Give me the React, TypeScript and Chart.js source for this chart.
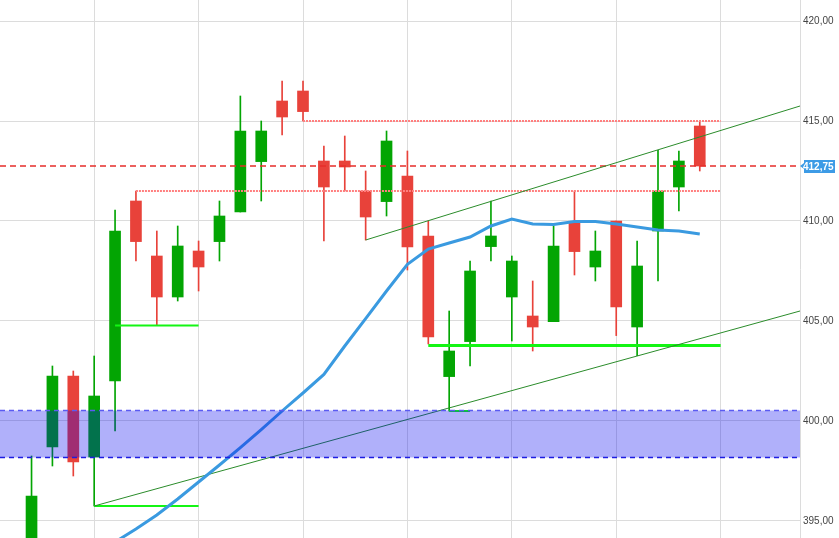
import React, { useEffect, useRef } from "react";
import { Chart, registerables } from "chart.js";

Chart.register(...registerables);

// ---------- data ----------
const candleIndex = [
  0, 1, 2, 3, 4, 5, 6, 7, 8, 9, 10, 11, 12, 13, 14, 15, 16, 17, 18, 19, 20, 21, 22, 23, 24, 25, 26, 27, 28, 29, 30, 31, 32,
];
const opens = [
  393.0, 398.7, 402.25, 398.2, 402.0, 411.0, 408.25, 406.2, 408.5, 408.97, 410.45, 412.97, 416.0, 416.5, 413.0, 413.0,
  411.5, 410.97, 412.25, 409.25, 402.22, 403.97, 408.72, 406.2, 405.25, 404.97, 409.9, 407.7, 410.0, 404.7, 409.5,
  411.7, 414.75,
];
const highs = [
  398.25, 402.75, 402.5, 403.25, 410.55, 411.5, 409.5, 409.75, 409.0, 411.0, 416.25, 415.0, 417.0, 417.0, 413.75, 414.25,
  412.5, 414.5, 413.5, 410.0, 405.5, 408.0, 411.0, 408.25, 407.0, 409.75, 411.5, 409.5, 410.0, 409.0, 413.53, 413.5,
  415.0,
];
const lows = [
  392.5, 397.75, 397.25, 395.75, 399.5, 408.0, 404.8, 406.0, 406.5, 408.0, 410.45, 411.0, 414.3, 415.0, 409.0, 411.5,
  409.05, 410.25, 407.55, 403.85, 400.5, 402.75, 408.0, 404.0, 403.5, 404.97, 407.3, 407.0, 404.27, 403.27, 407.0,
  410.5, 412.5,
];
const closes = [
  396.25, 402.25, 397.95, 401.25, 409.5, 408.97, 406.2, 408.75, 407.7, 410.25, 414.5, 414.5, 415.2, 415.47, 411.7,
  412.7, 410.2, 414.0, 408.7, 404.2, 403.5, 407.5, 409.25, 408.0, 404.7, 408.75, 408.47, 408.5, 405.7, 407.75, 411.5,
  413.0, 412.75,
];

const maIndex = [
  4, 5, 6, 7, 8, 9, 10, 11, 12, 13, 14, 15, 16, 17, 18, 19, 20, 21, 22, 23, 24, 25, 26, 27, 28, 29, 30, 31, 32,
];
const maValues = [
  393.95, 394.6, 395.3, 396.1, 396.95, 397.8, 398.67, 399.57, 400.5, 401.4, 402.33, 403.75, 405.12, 406.5, 407.83,
  408.6, 408.9, 409.2, 409.75, 410.1, 409.85, 409.83, 409.97, 409.97, 409.85, 409.7, 409.55, 409.5, 409.35,
];

const yTicks = [395, 400, 405, 410, 415, 420];
const xGridAt = [3, 8, 13, 18, 23, 28, 33];
const xRange = [-1.51, 36.8];
const yRange = [394.15, 421.05];

const lastPrice = 412.75;
const bandTop = 400.52;
const bandBottom = 398.18;

// trend lines: [x, y] pairs
const upperTrend = [
  [16, 409.05],
  [36.8, 415.75],
];
const lowerTrend = [
  [3, 395.75],
  [36.8, 405.5],
];
// horizontal support lines: [xStart, xEnd, level]
const supportA = [3, 8, 395.75];
const supportB = [4, 8, 404.77];
const supportC = [19, 33, 403.78];
const supportD = [20, 21, 400.5];
// resistance dotted lines
const resistA = [13, 33, 415.0];
const resistB = [5, 33, 411.5];

// ---------- styles ----------
const GREEN = "#03a503";
const RED = "#e8423a";
const GRID = "#dcdcdc";

function seg(x0: number, x1: number, y: number) {
  return [
    { x: x0, y },
    { x: x1, y },
  ];
}

export default function App() {
  const ref = useRef<HTMLCanvasElement | null>(null);

  useEffect(() => {
    document.body.style.margin = "0";
    const canvas = ref.current;
    if (!canvas) return;

    const colors = candleIndex.map((_, i) => (closes[i] >= opens[i] ? GREEN : RED));

    const priceTag = {
      id: "priceTag",
      afterDraw(chart: any) {
        const { ctx, chartArea, scales } = chart;
        const y = Math.round(scales.y.getPixelForValue(lastPrice));
        const x0 = chartArea.right + 1;
        ctx.save();
        ctx.fillStyle = "#3d9be6";
        ctx.beginPath();
        ctx.moveTo(x0 - 1, y);
        ctx.lineTo(x0 + 3, y - 3);
        ctx.lineTo(x0 + 3, y - 6);
        ctx.lineTo(x0 + 34, y - 6);
        ctx.lineTo(x0 + 34, y + 7);
        ctx.lineTo(x0 + 3, y + 7);
        ctx.lineTo(x0 + 3, y + 3);
        ctx.closePath();
        ctx.fill();
        ctx.fillStyle = "#ffffff";
        ctx.font = "bold 10px 'Liberation Sans', Arial, sans-serif";
        ctx.textBaseline = "middle";
        ctx.textAlign = "left";
        ctx.fillText(lastPrice.toFixed(2).replace(".", ","), x0 + 2, y + 1);
        ctx.restore();
      },
    };

    const lineDs = (data: any[], color: string, width: number, order: number, dash: number[] = []) => ({
      type: "line" as const,
      data,
      borderColor: color,
      borderWidth: width,
      borderDash: dash,
      pointRadius: 0,
      fill: false,
      tension: 0,
      order,
    });

    const chart = new Chart(canvas, {
      type: "bar",
      data: {
        datasets: [
          // 0: band top
          {
            ...lineDs(seg(xRange[0], xRange[1], bandTop), "#5b5bf2", 1.5, 0, [5, 4]),
            fill: { target: 1 },
            backgroundColor: "rgba(0,0,240,0.31)",
          } as any,
          // 1: band bottom
          lineDs(seg(xRange[0], xRange[1], bandBottom), "#2323df", 1.5, 0, [5, 4]) as any,
          // wicks
          {
            type: "bar",
            data: candleIndex.map((x, i) => ({ x, y: [lows[i], highs[i]] })),
            backgroundColor: colors,
            barThickness: 1,
            grouped: false,
            borderWidth: 0,
            order: 11,
          } as any,
          // bodies
          {
            type: "bar",
            data: candleIndex.map((x, i) => ({ x, y: [opens[i], closes[i]] })),
            backgroundColor: colors,
            barThickness: 11,
            grouped: false,
            borderWidth: 0,
            order: 10,
          } as any,
          lineDs(
            upperTrend.map(([x, y]) => ({ x, y })),
            "#2b8c2b",
            1,
            6
          ) as any,
          lineDs(
            lowerTrend.map(([x, y]) => ({ x, y })),
            "#2b8c2b",
            1,
            6
          ) as any,
          lineDs(seg(supportA[0], supportA[1], supportA[2]), "#14f514", 2, 6) as any,
          lineDs(seg(supportB[0], supportB[1], supportB[2]), "#14f514", 2, 6) as any,
          lineDs(seg(supportC[0], supportC[1], supportC[2]), "#14f514", 3, 6) as any,
          lineDs(seg(supportD[0], supportD[1], supportD[2]), "#14f514", 2, 6) as any,
          lineDs(seg(resistA[0], resistA[1], resistA[2]), "#ff8080", 2, 6, [2, 1]) as any,
          lineDs(seg(resistB[0], resistB[1], resistB[2]), "#ff8080", 2, 6, [2, 1]) as any,
          lineDs(seg(xRange[0], xRange[1], lastPrice), "#e62e2a", 1.5, 6, [6, 4]) as any,
          lineDs(
            maIndex.map((x, i) => ({ x, y: maValues[i] })),
            "#3a9ae0",
            3,
            5
          ) as any,
        ],
      },
      options: {
        responsive: false,
        animation: false,
        devicePixelRatio: 1,
        layout: { padding: 0 },
        plugins: {
          legend: { display: false },
          tooltip: { enabled: false },
          filler: { propagate: false },
        },
        scales: {
          x: {
            type: "linear",
            min: xRange[0],
            max: xRange[1],
            offset: false,
            grid: { color: GRID, drawTicks: false, offset: false, lineWidth: 1 },
            border: { display: false },
            ticks: { display: false },
            afterBuildTicks: (s: any) => {
              s.ticks = xGridAt.map((v) => ({ value: v }));
            },
            afterFit: (s: any) => {
              s.height = 0;
              s.paddingLeft = 0;
              s.paddingRight = 0;
            },
          },
          y: {
            type: "linear",
            position: "right",
            min: yRange[0],
            max: yRange[1],
            beginAtZero: false,
            grid: { color: GRID, drawTicks: false, lineWidth: 1 },
            border: { display: true, color: GRID },
            ticks: {
              padding: 3,
              color: "#444444",
              font: { size: 10, family: "'Liberation Sans', Arial, sans-serif" },
              callback: (v: any) => Number(v).toFixed(2).replace(".", ","),
            },
            afterBuildTicks: (s: any) => {
              s.ticks = yTicks.map((v) => ({ value: v }));
            },
            afterFit: (s: any) => {
              s.width = 39;
              s.paddingTop = 0;
              s.paddingBottom = 0;
            },
          },
        },
      } as any,
      plugins: [priceTag],
    });

    return () => chart.destroy();
  }, []);

  return (
    <div style={{ width: 839, height: 538 }}>
      <canvas ref={ref} width={839} height={538} style={{ display: "block" }} />
    </div>
  );
}
